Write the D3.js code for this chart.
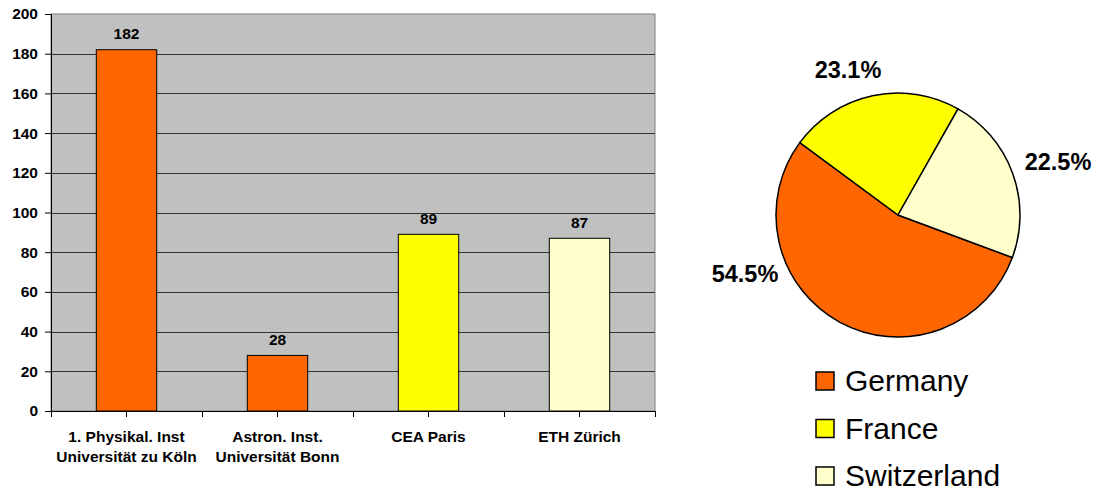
<!DOCTYPE html>
<html>
<head>
<meta charset="utf-8">
<script src="https://cdn.jsdelivr.net/npm/d3@7"></script>
<style>
  body { margin: 0; background: #fff; }
  text { font-family: "Liberation Sans", Arial, sans-serif; }
</style>
</head>
<body>
<div id="the_chart"></div>
<script>
// bar chart data
var institutes = ["1. Physikal. Inst\nUniversität zu Köln", "Astron. Inst.\nUniversität Bonn", "CEA Paris", "ETH Zürich"];
var counts = [182, 28, 89, 87];
var barColors = ["#ff6600", "#ff6600", "#ffff00", "#ffffcc"];
var yTicks = [0, 20, 40, 60, 80, 100, 120, 140, 160, 180, 200];

// pie data
var countries = ["Germany", "France", "Switzerland"];
var shares = [54.5, 23.1, 22.5];
var countryColors = ["#ff6600", "#ffff00", "#ffffcc"];

var w = 1096;
var h = 491;

var svg = d3.select("#the_chart")
    .append("svg")
    .attr("width", w)
    .attr("height", h);

// ---- bar chart ----
var pLeft = 51, pRight = 655, pTop = 14, pBottom = 411;

var x = d3.scaleBand()
    .domain(institutes)
    .range([pLeft, pRight])
    .paddingInner(0.6)
    .paddingOuter(0.3);

var y = d3.scaleLinear()
    .domain([0, 200])
    .range([pBottom, pTop]);

svg.append("rect") //plot area background
    .attr("x", pLeft)
    .attr("y", pTop)
    .attr("width", pRight - pLeft)
    .attr("height", pBottom - pTop)
    .attr("fill", "#c0c0c0")
    .attr("stroke", "#808080");

svg.selectAll(".grid")
    .data(yTicks.filter(function (d) { return d > 0 && d < 200; }))
    .enter()
    .append("line")
    .attr("x1", pLeft)
    .attr("x2", pRight)
    .attr("y1", function (d) { return Math.round(y(d)) + 0.5; })
    .attr("y2", function (d) { return Math.round(y(d)) + 0.5; })
    .attr("stroke", "#333")
    .attr("stroke-width", 1);

svg.selectAll(".bar")
    .data(counts)
    .enter()
    .append("rect")
    .attr("x", function (d, i) { return x(institutes[i]); })
    .attr("y", function (d) { return y(d); })
    .attr("width", x.bandwidth())
    .attr("height", function (d) { return pBottom - y(d); })
    .attr("fill", function (d, i) { return barColors[i]; })
    .attr("stroke", "#000")
    .attr("stroke-width", 1);

svg.selectAll(".val")
    .data(counts)
    .enter()
    .append("text")
    .attr("x", function (d, i) { return x(institutes[i]) + x.bandwidth() / 2; })
    .attr("y", function (d) { return y(d) - 10.5; })
    .attr("text-anchor", "middle")
    .attr("font-size", "15.5px")
    .attr("font-weight", "bold")
    .text(function (d) { return d; });

// y axis
var yAxis = svg.append("g")
    .attr("transform", "translate(" + pLeft + ",0)")
    .call(d3.axisLeft(y).tickValues(yTicks).tickSize(6).tickPadding(7));
yAxis.selectAll("text")
    .attr("font-size", "15.5px")
    .attr("font-weight", "bold")
    .attr("fill", "#000")
    .style("font-family", "'Liberation Sans', Arial, sans-serif");
yAxis.select(".domain").attr("stroke", "#000");

// x axis: ticks at category centres and at the borders between them
var xAxis = svg.append("g")
    .attr("transform", "translate(0," + pBottom + ")")
    .call(d3.axisBottom(x).tickSize(6).tickSizeOuter(0).tickFormat(""));
xAxis.select(".domain").attr("stroke", "#000");
xAxis.selectAll(".edge")
    .data(d3.range(institutes.length + 1))
    .enter()
    .append("line")
    .attr("x1", function (i) { return pLeft + i * x.step() + 0.5; })
    .attr("x2", function (i) { return pLeft + i * x.step() + 0.5; })
    .attr("y2", 6)
    .attr("stroke", "#000");

svg.selectAll(".cat")
    .data(institutes)
    .enter()
    .append("text")
    .attr("x", function (d) { return x(d) + x.bandwidth() / 2; })
    .attr("y", 442)
    .attr("text-anchor", "middle")
    .attr("font-size", "15.5px")
    .attr("font-weight", "bold")
    .each(function (d) {
        var t = d3.select(this);
        d.split("\n").forEach(function (line, k) {
            t.append("tspan")
                .attr("x", x(d) + x.bandwidth() / 2)
                .attr("dy", k === 0 ? 0 : 20)
                .text(line);
        });
    });

// ---- pie chart ----
var cx = 898, cy = 215, r = 122;
var start = 110.4 * Math.PI / 180;

var pie = d3.pie()
    .sort(null)
    .startAngle(start)
    .endAngle(start + 2 * Math.PI);

var arc = d3.arc().innerRadius(0).outerRadius(r);

var g = svg.append("g")
    .attr("transform", "translate(" + cx + "," + cy + ")");

g.selectAll("path")
    .data(pie(shares))
    .enter()
    .append("path")
    .attr("d", arc)
    .attr("fill", function (d, i) { return countryColors[i]; })
    .attr("stroke", "#000")
    .attr("stroke-width", 1.5);

// label offsets from pie centre (where Excel put them)
var labelPos = [[-153, 67], [-50, -137], [160, -45]];

g.selectAll(".pct")
    .data(shares)
    .enter()
    .append("text")
    .attr("x", function (d, i) { return labelPos[i][0]; })
    .attr("y", function (d, i) { return labelPos[i][1]; })
    .attr("text-anchor", "middle")
    .attr("font-size", "23.5px")
    .attr("font-weight", "bold")
    .text(function (d) { return d.toFixed(1) + "%"; });

// legend
var legend = svg.selectAll(".leg")
    .data(countries)
    .enter()
    .append("g")
    .attr("transform", function (d, i) { return "translate(816," + (372 + i * 47.5) + ")"; });

legend.append("rect")
    .attr("width", 18)
    .attr("height", 18)
    .attr("fill", function (d, i) { return countryColors[i]; })
    .attr("stroke", "#000")
    .attr("stroke-width", 1.5);

legend.append("text")
    .attr("x", 29)
    .attr("y", 19)
    .attr("font-size", "30px")
    .text(function (d) { return d; });
</script>
</body>
</html>
